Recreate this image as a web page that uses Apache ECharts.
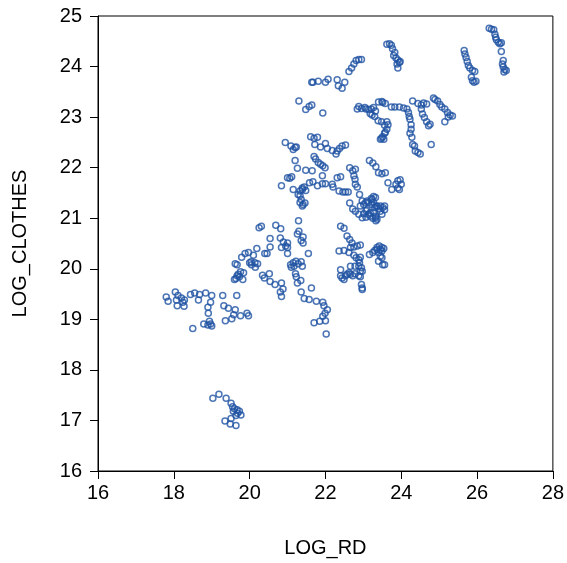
<!DOCTYPE html>
<html>
<head>
<meta charset="utf-8">
<title>LOG_CLOTHES vs LOG_RD</title>
<script src="https://cdn.jsdelivr.net/npm/echarts@6/dist/echarts.min.js"></script>
<style>
html, body { margin: 0; padding: 0; background: #fff; }
#scatter { width: 567px; height: 563px; }
</style>
</head>
<body>
<div id="scatter"></div>
<script>
// axis ranges / ticks
const xTicks = [16, 18, 20, 22, 24, 26, 28];
const yTicks = [16, 17, 18, 19, 20, 21, 22, 23, 24, 25];

// [LOG_RD, LOG_CLOTHES], grouped by region
const lowGroup = [
  [19.03,17.44],[19.19,17.52],[19.38,17.44],[19.51,17.34],[19.55,17.27],[19.60,17.23],[19.67,17.21],[19.73,17.18],
  [19.77,17.11],[19.64,17.10],[19.51,17.04],[19.35,16.99],[19.49,16.93],[19.64,16.90],[19.57,17.18],[19.68,17.14]
];
const leftGroup = [
  [17.80,19.44],[17.85,19.36],[18.04,19.54],[18.11,19.47],[18.07,19.38],[18.09,19.27],[18.20,19.42],[18.24,19.34],
  [18.27,19.26],[18.28,19.38],[18.44,19.49],[18.55,19.52],[18.68,19.49],[18.65,19.38],[18.84,19.52],[19.00,19.47],
  [18.97,19.34],[18.90,19.24],[18.91,19.12],[19.29,19.47],[19.66,19.47],[19.32,19.27],[19.44,19.22],[19.62,19.19],
  [19.58,19.09],[19.76,19.07],[19.53,19.01],[19.36,18.97],[19.93,19.12],[19.97,19.07],[18.94,18.96],[18.97,18.91],
  [19.00,18.87],[18.79,18.91],[18.90,18.89],[18.50,18.82]
];
const midLeftGroup = [
  [20.84,21.64],[21.15,21.57],[21.33,21.54],[21.39,21.60],[21.28,21.47],[21.36,21.37],[21.33,21.31],[21.39,21.24],
  [20.25,20.81],[20.31,20.84],[20.69,20.86],[20.82,20.79],[20.54,20.60],[20.81,20.61],[20.89,20.53],[21.00,20.51],
  [20.54,20.43],[20.95,20.45],[20.84,20.42],[21.00,20.30],[21.26,20.69],[21.30,20.74],[21.36,20.56],[20.19,20.40],
  [19.97,20.32],[19.88,20.30],[19.79,20.23],[20.10,20.27],[20.40,20.30],[20.46,20.30],[19.62,20.10],[19.67,20.08],
  [20.00,20.12],[20.05,20.08],[20.14,20.12],[20.21,20.10],[20.04,20.14],[20.15,20.03],[19.76,19.94],[19.84,19.92],
  [19.70,19.89],[19.67,19.86],[19.60,19.79],[19.64,19.81],[19.82,19.79],[19.73,19.84],[20.34,19.87],[20.39,19.82],
  [20.52,19.90],[20.54,19.75],[20.67,19.69],[20.84,19.72],[20.88,19.60],[20.81,19.54],[20.84,19.45],[21.21,19.90],
  [21.26,19.72],[21.35,19.77],[21.08,20.08],[21.15,20.12],[21.22,20.15],[21.28,20.10],[21.36,20.14],[21.10,20.03],
  [21.17,20.05],[21.36,19.54],[21.39,20.05],[21.00,20.42],[21.41,20.51],[21.55,20.30],[21.23,19.84],[21.29,20.95],
  [21.41,20.63]
];
const midLowGroup = [
  [21.63,19.62],[21.44,19.41],[21.57,19.39],[21.76,19.36],[21.93,19.34],[21.96,19.27],[22.05,19.19],[21.99,19.12],
  [21.93,19.06],[22.00,18.97],[21.85,18.96],[21.70,18.93],[22.02,18.71],[22.36,20.35],[22.49,20.36],[22.57,20.65],
  [22.64,20.58],[22.70,20.51],[22.66,20.42],[22.75,20.43],[22.84,20.45],[22.92,20.47],[22.62,20.32],[22.75,20.27],
  [22.81,20.22],[22.88,20.18],[22.92,20.23],[22.90,20.12],[23.16,20.28],[23.25,20.32],[23.36,20.38],[23.45,20.38],
  [23.49,20.35],[23.40,20.32],[23.45,20.25],[23.49,20.22],[23.56,20.08],[23.40,20.15],[22.40,19.98],[22.66,20.05],
  [22.78,20.05],[22.88,20.05],[22.95,20.02],[22.92,19.95],[22.40,19.86],[22.44,19.82],[22.49,19.79],[22.53,19.86],
  [22.57,19.89],[22.62,19.92],[22.66,19.89],[22.72,19.86],[22.78,19.90],[22.88,19.86],[22.97,19.95],[22.92,19.84],
  [22.95,19.69],[22.97,19.62],[22.97,19.59],[23.30,20.36],[23.36,20.42],[23.42,20.45],[23.49,20.42],[23.54,20.40],
  [23.51,20.08],[22.40,20.84],[22.49,20.80]
];
const centreGroup = [
  [20.94,22.50],[21.09,22.43],[21.15,22.36],[21.20,22.40],[21.23,22.41],[21.61,22.61],[21.70,22.58],[21.79,22.60],
  [21.72,22.46],[21.87,22.41],[22.00,22.48],[22.05,22.38],[22.18,22.34],[22.31,22.33],[22.37,22.38],[22.44,22.43],
  [22.53,22.45],[22.28,22.27],[21.70,22.22],[21.74,22.17],[21.81,22.10],[21.87,22.07],[21.93,22.04],[21.99,22.00],
  [21.20,22.14],[21.26,21.99],[21.48,21.95],[21.65,21.94],[21.92,21.84],[21.00,21.80],[21.06,21.79],[21.11,21.82],
  [21.39,21.57],[21.44,21.62],[21.48,21.55],[21.33,21.45],[21.41,21.27],[21.46,21.30],[21.58,21.70],[21.67,21.72],
  [21.79,21.64],[21.92,21.68],[22.00,21.68],[22.18,21.67],[22.20,21.62],[22.31,21.80],[22.40,21.82],[22.36,21.54],
  [22.46,21.52],[22.53,21.52],[22.60,21.52],[22.64,22.00],[22.72,21.94],[22.79,21.97],[22.75,21.84],[22.78,21.77],
  [22.79,21.67],[22.84,21.62],[22.90,21.47],[23.16,22.14],[23.25,22.09],[23.33,22.02],[23.40,21.90],[23.49,21.88],
  [23.58,21.90],[23.65,21.70],[22.64,21.30],[22.72,21.18],[22.79,21.14],[22.88,21.08],[22.92,21.24],[23.01,21.27],
  [23.07,21.15],[23.14,21.08],[23.23,21.37],[23.27,21.31],[23.33,21.24],[23.40,21.19],[23.45,21.14],[23.49,21.08],
  [23.56,21.24],[23.32,21.01],[23.18,21.11],[23.01,21.09],[23.07,21.02],[23.25,21.00],[23.33,20.95],[23.58,22.70],
  [23.51,22.61],[23.45,22.56],[23.75,21.57],[23.86,21.67],[23.91,21.74],[23.97,21.76],[24.00,21.67],[23.95,21.57],
  [23.91,21.60],[22.97,21.34],[23.06,21.31],[23.10,21.34],[23.14,21.31],[23.21,21.39],[23.27,21.43],[23.32,21.41],
  [23.23,21.27],[23.30,21.21],[23.36,21.24],[23.45,21.24],[23.51,21.21],[23.56,21.17],[23.27,21.11],[23.32,21.04],
  [22.97,21.01],[23.10,21.17],[23.18,21.04],[23.36,20.98]
];
const upperGroup = [
  [21.30,23.32],[21.48,23.15],[21.57,23.21],[21.64,23.24],[21.93,23.08],[21.64,23.69],[21.67,23.69],[21.81,23.71],
  [22.00,23.69],[22.07,23.75],[22.31,23.74],[22.34,23.62],[22.44,23.57],[22.51,23.69],[22.62,23.90],[22.69,23.97],
  [22.75,24.05],[22.81,24.12],[22.88,24.14],[22.95,24.14],[22.88,23.21],[22.84,23.16],[22.95,23.17],[23.04,23.19],
  [23.07,23.16],[23.14,23.15],[23.21,23.16],[23.27,23.19],[23.23,23.04],[23.30,23.01],[23.39,22.93],[23.48,22.91],
  [23.56,22.84],[23.62,22.91],[23.40,23.30],[23.51,23.29],[23.58,23.27],[23.62,24.44],[23.69,24.45],[23.74,24.42],
  [23.77,24.35],[23.83,24.28],[23.80,24.22],[23.86,24.17],[23.91,24.13],[23.95,24.08],[23.97,24.10],[23.89,24.05],
  [23.91,23.97],[23.18,23.07],[23.32,23.12],[23.49,23.31],[23.74,23.20],[23.83,23.20],[23.95,23.20],[24.06,23.18],
  [24.15,23.16],[24.19,23.09],[24.21,23.01],[24.23,22.96],[24.26,22.85],[24.26,22.76],[24.23,22.68],[24.28,22.60],
  [24.30,22.46],[24.35,22.43],[24.37,22.33],[24.44,22.30],[24.50,22.27],[23.65,22.85],[23.62,22.76],[23.56,22.68],
  [23.48,22.58],[23.54,22.56],[24.30,23.32],[24.44,23.27],[24.53,23.24],[24.59,23.28],[24.67,23.26],[24.53,23.16],
  [24.56,23.06],[24.61,22.99],[24.67,22.91],[24.76,22.86],[24.72,22.83],[24.79,22.46],[24.85,23.38],[24.89,23.35],
  [24.96,23.32],[25.02,23.25],[25.07,23.20],[25.15,23.16],[25.22,23.09],[25.29,23.04],[25.35,23.02],[25.24,23.00],
  [25.15,22.91]
];
const rightGroup = [
  [26.32,24.76],[26.38,24.74],[26.44,24.73],[26.47,24.64],[26.49,24.58],[26.51,24.53],[26.56,24.48],[26.60,24.45],
  [26.64,24.47],[26.64,24.30],[26.69,24.12],[26.67,24.05],[26.69,23.99],[26.73,23.94],[26.77,23.92],[26.71,23.89],
  [25.66,24.32],[25.68,24.25],[25.71,24.18],[25.74,24.10],[25.77,24.02],[25.81,23.97],[25.88,23.92],[25.94,23.90],
  [25.85,23.79],[25.88,23.72],[25.92,23.69],[25.97,23.71]
];

const points = [].concat(lowGroup, leftGroup, midLeftGroup, midLowGroup, centreGroup, upperGroup, rightGroup);

const font = "'Liberation Sans', Arial, sans-serif";
const chart = echarts.init(document.getElementById('scatter'));

const option = {
  animation: false,
  grid: {
    left: 98,
    right: 11,
    top: 16,
    bottom: 91,
    show: true,
    borderColor: '#000',
    borderWidth: 1,
  },
  xAxis: {
    type: 'value',
    min: xTicks[0],
    max: xTicks[xTicks.length - 1],
    interval: xTicks[1] - xTicks[0],
    name: 'LOG_RD',
    nameLocation: 'middle',
    nameGap: 67,
    nameTextStyle: { color: '#000', fontSize: 20, fontFamily: font },
    axisLine: { lineStyle: { color: '#000', width: 1 } },
    axisTick: { show: true, length: 8, lineStyle: { color: '#000' } },
    axisLabel: { color: '#000', fontSize: 20, fontFamily: font, margin: 12 },
    splitLine: { show: false },
  },
  yAxis: {
    type: 'value',
    min: yTicks[0],
    max: yTicks[yTicks.length - 1],
    interval: yTicks[1] - yTicks[0],
    name: 'LOG_CLOTHES',
    nameLocation: 'middle',
    nameGap: 68,
    nameTextStyle: { color: '#000', fontSize: 20, fontFamily: font },
    axisLine: { show: true, lineStyle: { color: '#000', width: 1 } },
    axisTick: { show: true, length: 8, lineStyle: { color: '#000' } },
    axisLabel: { color: '#000', fontSize: 20, fontFamily: font, margin: 16 },
    splitLine: { show: false },
  },
  series: [{
    type: 'scatter',
    data: points,
    symbol: 'circle',
    symbolSize: 6,
    itemStyle: {
      color: 'rgba(255,255,255,0)',
      borderColor: '#1f52a3',
      borderWidth: 1.5,
    },
    emphasis: { disabled: true },
  }],
};

chart.setOption(option);
</script>
</body>
</html>
